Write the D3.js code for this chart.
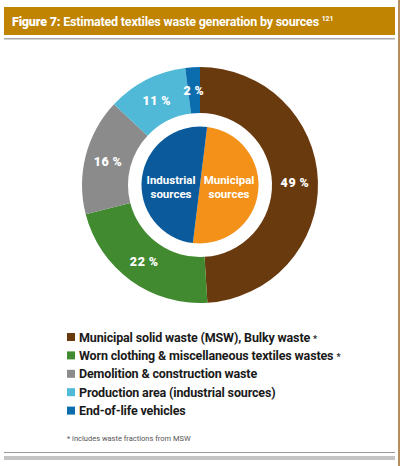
<!DOCTYPE html>
<html>
<head>
<meta charset="utf-8">
<script src="https://cdn.jsdelivr.net/npm/d3@7"></script>
<style>
  body { margin: 0; background: #fff; }
  svg { display: block; font-family: "Roboto", "Liberation Sans", sans-serif; }
</style>
</head>
<body>
<script>
// outer ring: sources of textile waste (%)
var categories = [
  "Municipal solid waste (MSW), Bulky waste",
  "Worn clothing & miscellaneous textiles wastes",
  "Demolition & construction waste",
  "Production area (industrial sources)",
  "End-of-life vehicles"
];
var shares = [49, 22, 16, 11, 2];
var starred = [true, true, false, false, false];
var ringColours = ["#6a3a0f", "#418a2f", "#8b8b8b", "#4fb9d7", "#0b6cae"];

// inner pie: municipal vs industrial
var innerLabels = [["Municipal", "sources"], ["Industrial", "sources"]];
var innerShares = [50, 50];
var innerColours = ["#f39119", "#0b5a9b"];

var breedte = 401, hoogte = 466;
var cx = 200, cy = 185;

var svg = d3.select("body").append("svg")
  .attr("width", breedte)
  .attr("height", hoogte);

// header bar
svg.append("rect")
  .attr("x", 4).attr("y", 7)
  .attr("width", 391).attr("height", 28)
  .attr("fill", "#c08402");
var kop = svg.append("text")
  .attr("x", 12).attr("y", 26)
  .attr("fill", "#fff")
  .attr("font-size", "12.5px")
  .attr("letter-spacing", "-0.2px")
  .attr("font-weight", "bold");
kop.append("tspan").attr("font-weight", 900).text("Figure 7: ");
kop.append("tspan").text("Estimated textiles waste generation by sources ");
kop.append("tspan").attr("font-size", "7px").attr("dy", -5).text("121");

// rules
svg.append("rect").attr("x", 4).attr("y", 38).attr("width", 391).attr("height", 1.5).attr("fill", "#aaa");
svg.append("rect").attr("x", 4).attr("y", 452).attr("width", 391).attr("height", 1).attr("fill", "#999");
svg.append("rect").attr("x", 4).attr("y", 456).attr("width", 391).attr("height", 4).attr("fill", "#c4c4c4");
svg.append("rect").attr("x", 398).attr("y", 0).attr("width", 2).attr("height", hoogte).attr("fill", "#b88d5e");

var g = svg.append("g").attr("transform", "translate(" + cx + "," + cy + ")");

// donut
var pie = d3.pie().sort(null).value(function(d) { return d; });
var ring = d3.arc().innerRadius(72).outerRadius(118);
var ringData = pie(shares);

g.selectAll("path.ring")
  .data(ringData)
  .enter()
  .append("path")
  .attr("class", "ring")
  .attr("d", ring)
  .attr("fill", function(d, i) { return ringColours[i]; });

g.selectAll("text.pct")
  .data(ringData)
  .enter()
  .append("text")
  .attr("class", "pct")
  .attr("transform", function(d) { return "translate(" + ring.centroid(d) + ")"; })
  .attr("dy", "0.36em")
  .attr("text-anchor", "middle")
  .attr("fill", "#fff")
  .attr("font-size", "12.5px")
  .attr("letter-spacing", "0.6px")
  .attr("font-weight", 900)
  .text(function(d) { return d.data + "\u2009%"; });

// inner pie, slightly rotated
var hoek = 7 * Math.PI / 180;
var innerPie = d3.pie().sort(null).value(function(d) { return d; })
  .startAngle(hoek).endAngle(hoek + 2 * Math.PI);
var binnen = d3.arc().innerRadius(0).outerRadius(58.5);

g.selectAll("path.inner")
  .data(innerPie(innerShares))
  .enter()
  .append("path")
  .attr("class", "inner")
  .attr("d", binnen)
  .attr("fill", function(d, i) { return innerColours[i]; });

var innerX = [29, -29];
innerLabels.forEach(function(lines, i) {
  var t = g.append("text")
    .attr("text-anchor", "middle")
    .attr("fill", "#fff")
    .attr("font-size", "11.5px")
    .attr("font-weight", "bold");
  lines.forEach(function(l, j) {
    t.append("tspan").attr("x", innerX[i]).attr("y", -1 + j * 13.5).text(l);
  });
});

// legend
var legend = svg.selectAll("g.legend")
  .data(categories)
  .enter()
  .append("g")
  .attr("class", "legend")
  .attr("transform", function(d, i) { return "translate(67," + (333 + i * 18.4) + ")"; });

legend.append("rect")
  .attr("width", 8).attr("height", 8)
  .attr("fill", function(d, i) { return ringColours[i]; });

var lt = legend.append("text")
  .attr("x", 12).attr("y", 8.5)
  .attr("fill", "#1a1a1a")
  .attr("font-size", "12.5px")
  .attr("letter-spacing", "-0.15px")
  .attr("font-weight", "bold");
lt.append("tspan").text(function(d) { return d; });
lt.append("tspan")
  .attr("font-size", "9px")
  .attr("dx", 3)
  .text(function(d, i) { return starred[i] ? "*" : ""; });

svg.append("text")
  .attr("x", 67).attr("y", 441)
  .attr("fill", "#555")
  .attr("font-size", "7.5px")
  .text("* includes waste fractions from MSW");
</script>
</body>
</html>
